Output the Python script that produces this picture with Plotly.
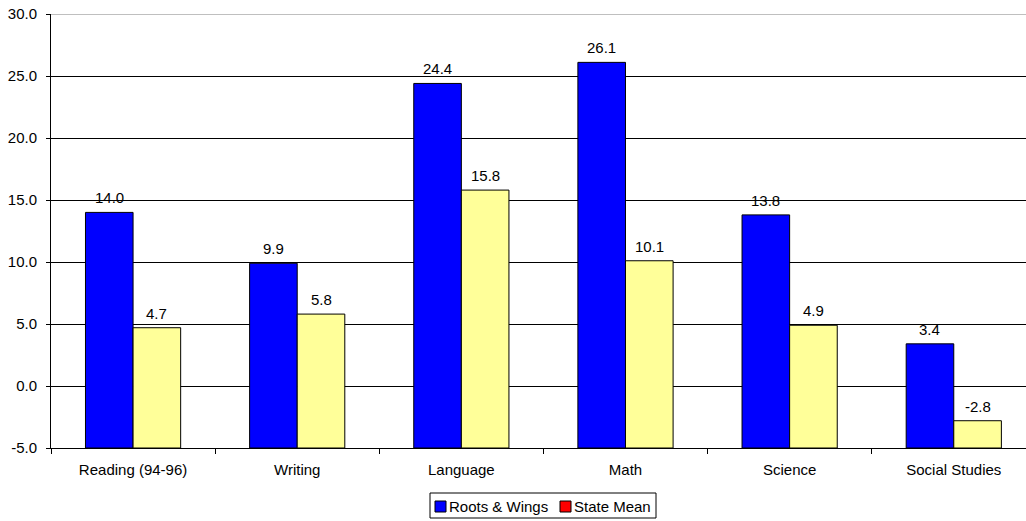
import plotly.graph_objects as go

# Score gains by subject
subjects = ["Reading (94-96)", "Writing", "Language", "Math", "Science", "Social Studies"]
roots_wings = [14.0, 9.9, 24.4, 26.1, 13.8, 3.4]
state_mean = [4.7, 5.8, 15.8, 10.1, 4.9, -2.8]
y_ticks = [-5, 0, 5, 10, 15, 20, 25, 30]

AXIS_FLOOR = -5  # bars rise from the bottom of the value axis

W, H = 1026, 521
M_L, M_R, M_T, M_B = 51, 0, 14, 73
X_RANGE = [-0.5, 5.44]
BARGAP = 0.42

font = dict(family="Arial, Liberation Sans, sans-serif", size=15, color="black")

plot_w = W - M_L - M_R
plot_h = H - M_T - M_B
cat_px = plot_w / (X_RANGE[1] - X_RANGE[0])
bar_px = cat_px * (1 - BARGAP) / 2

def px_x(px):
    return (px - M_L) / plot_w

def px_y(py):
    return (H - M_B - py) / plot_h

fig = go.Figure()

series = [
    ("Roots & Wings", roots_wings, "#0000FF", -1),
    ("State Mean", state_mean, "#FFFF99", 1),
]

for name, values, color, side in series:
    fig.add_trace(go.Bar(
        x=subjects,
        y=[v - AXIS_FLOOR for v in values],
        base=AXIS_FLOOR,
        name=name,
        marker=dict(color=color, line=dict(color="black", width=1)),
        showlegend=False,
        hoverinfo="skip",
    ))
    # value labels above each bar
    for s, v in zip(subjects, values):
        fig.add_annotation(
            x=s, y=v, xref="x", yref="y", text=f"{v:.1f}",
            showarrow=False, yanchor="bottom", xanchor="center",
            xshift=side * bar_px / 2, yshift=4, font=font,
        )

fig.update_layout(
    width=W, height=H,
    margin=dict(l=M_L, r=M_R, t=M_T, b=M_B),
    paper_bgcolor="white", plot_bgcolor="white",
    barmode="group", bargap=BARGAP, bargroupgap=0,
    font=font,
    showlegend=False,
    xaxis=dict(
        type="category", range=X_RANGE,
        showline=True, linecolor="black", linewidth=1,
        ticks="outside", tickson="boundaries", ticklen=5, tickcolor="black",
        showgrid=False, tickfont=font, ticklabelstandoff=8,
    ),
    yaxis=dict(
        range=[-5, 30], tickvals=y_ticks,
        ticktext=[f"{v:.1f}" for v in y_ticks],
        showline=True, linecolor="black", linewidth=1,
        ticks="outside", ticklen=4, tickcolor="black",
        showgrid=True, gridcolor="black", gridwidth=1,
        zeroline=False, tickfont=font, ticklabelstandoff=6,
    ),
)

# Upper plot border
fig.add_shape(type="line", xref="paper", yref="y", x0=0, x1=1, y0=30, y1=30,
              line=dict(color="#808080", width=1))

# Legend box below the plot
legend_box = (430, 493, 656, 518)
fig.add_shape(type="rect", xref="paper", yref="paper",
              x0=px_x(legend_box[0]), x1=px_x(legend_box[2]),
              y0=px_y(legend_box[3]), y1=px_y(legend_box[1]),
              line=dict(color="black", width=1), fillcolor="white")
legend_items = [
    ("Roots & Wings", "#0000FF", 435),
    ("State Mean", "#FF0000", 560),
]
for label, color, sx in legend_items:
    fig.add_shape(type="rect", xref="paper", yref="paper",
                  x0=px_x(sx), x1=px_x(sx + 11),
                  y0=px_y(512), y1=px_y(501),
                  line=dict(color="black", width=1), fillcolor=color)
    fig.add_annotation(x=px_x(sx + 12), y=px_y(506.5), xref="paper", yref="paper",
                       text=label, showarrow=False, xanchor="left", yanchor="middle",
                       font=font)

fig.write_html("out.html")
